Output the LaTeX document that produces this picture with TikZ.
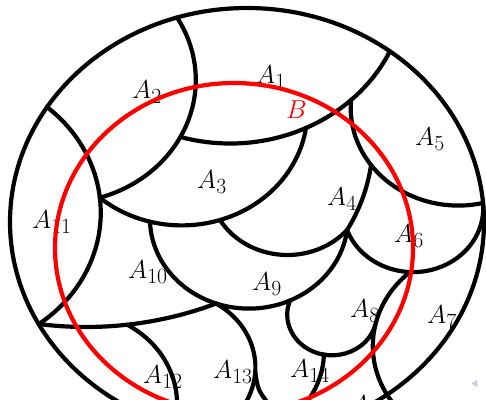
\documentclass[tikz,border=0pt]{standalone}
\begin{document}
\begin{tikzpicture}[x=1pt,y=-1pt,
  region/.style={line width=4.2pt, line join=round, line cap=round},
  setB/.style={red, line width=4.2pt},
  lab/.style={anchor=base west, inner sep=0pt, scale=1.045, font=\fontsize{24.88}{30}\selectfont}]
\definecolor{navcol}{RGB}{204,204,235}
\useasboundingbox (0,0) rectangle (486,399);
\fill[white] (0,0) rectangle (486,399);
\clip (0,0) rectangle (486,399);
% labels
\node[lab] (a1) at (256,83) {$A_1$};
\node[lab] (a2) at (132,98) {$A_2$};
\node[lab] (a3) at (197,188) {$A_3$};
\node[lab] (a4) at (327,205) {$A_4$};
\node[lab] (a5) at (415,145) {$A_5$};
\node[lab] (a6) at (394,242) {$A_6$};
\node[lab] (a7) at (427,323) {$A_7$};
\node[lab] (a8) at (350,317) {$A_8$};
\node[lab] (a9) at (252,290) {$A_9$};
\node[lab] (a10) at (128,278) {$A_{10}$};
\node[lab] (a11) at (32,228) {$A_{11}$};
\node[lab] (a12) at (143,383) {$A_{12}$};
\node[lab] (a13) at (213,378) {$A_{13}$};
\node[lab] (a14) at (290,377) {$A_{14}$};
\node[lab] (a15) at (350,413) {$A_{15}$};
% outer set
\draw[region] (247,222) ellipse [x radius=237, y radius=214];
% partition curves (arcs drawn in a horizontally stretched frame)
\begin{scope}[xscale=1.1]
\draw[region] (55,80) ++(-30.55:123) arc[start angle=-30.55, end angle=73.1, radius=123];
\draw[region] (209.3,-16.9) ++(106.4:160.4) arc[start angle=106.4, end angle=25.2, radius=160.4];
\draw[region] (165.3,111.3) ++(130.8:114.1) arc[start angle=130.8, end angle=8.4, radius=114.1];
\draw[region] (261.3,183.8) ++(149.4:71.2) arc[start angle=149.4, end angle=40.4, radius=71.2];
\draw[region] (226.3,218.6) ++(178:90) arc[start angle=178, end angle=7.3, radius=90];
\draw[region] (158.5,141.2) ++(29.5:180.4) arc[start angle=29.5, end angle=7.6, radius=180.4];
\draw[region] (416.6,107.8) ++(184.6:97.8) arc[start angle=184.6, end angle=76.7, radius=97.8];
\draw[region] (375.5,208.3) ++(160.1:63.8) arc[start angle=160.1, end angle=-4.8, radius=63.8];
\draw[region] (436.8,346) ++(229.1:97.9) arc[start angle=229.1, end angle=140, radius=97.9];
\draw[region] (301.8,314.6) ++(200.3:40.7) arc[start angle=200.3, end angle=14.8, radius=40.7];
\draw[region] (206,351.9) ++(1.7:88.5) arc[start angle=1.7, end angle=37, radius=88.5];
\draw[region] (78.2,17.5) ++(97.9:309.5) arc[start angle=97.9, end angle=67.5, radius=309.5];
\draw[region] (157.5,367.3) ++(-58.6:74.7) arc[start angle=-58.6, end angle=32, radius=74.7];
\draw[region] (232,372) .. controls (234.5,390) .. (245,405);
\draw[region] (69.15,403.9) ++(-59.7:91.8) arc[start angle=-59.7, end angle=5, radius=91.8];
\draw[region] (-46.9,212.6) ++(-49.7:138.5) arc[start angle=-49.7, end angle=53.5, radius=138.5];
\end{scope}
% set B
\draw[setB] (234,248) ellipse [x radius=179, y radius=165];
\node[lab, text=red] (b) at (286,118) {$B$};
% navigation symbol
\fill[navcol] (471.5,383.5) -- (477,379.5) -- (477,387.5) -- cycle;
\end{tikzpicture}
\end{document}
